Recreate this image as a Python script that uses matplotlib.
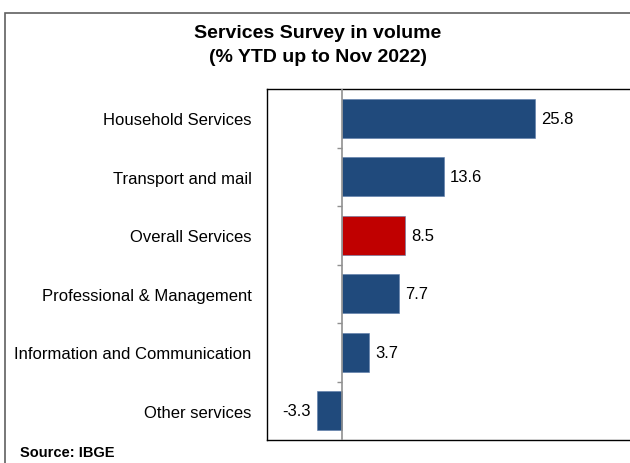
import numpy as np
import matplotlib.pyplot as plt
from matplotlib.patches import Rectangle

plt.rcParams['font.family'] = ['Liberation Sans', 'DejaVu Sans']

categories = ['Household Services', 'Transport and mail', 'Overall Services',
              'Professional & Management', 'Information and Communication',
              'Other services']
values = [25.8, 13.6, 8.5, 7.7, 3.7, -3.3]
highlight = 'Overall Services'

navy = '#204A7C'
red = '#C00000'

fig = plt.figure(figsize=(6.3, 4.64), dpi=100)

# outer frame (runs past the right and bottom edges)
fig.patches.append(Rectangle((5 / 630, -0.1), 1.0, (464 - 14) / 464 + 0.1,
                             transform=fig.transFigure, fill=False,
                             edgecolor='#606060', linewidth=1.2))

ax = fig.add_axes([267 / 630, 23 / 464, 374 / 630, 351 / 464])

y = np.arange(len(categories))
colors = [red if c == highlight else navy for c in categories]
ax.barh(y, values, height=0.67, color=colors, edgecolor='#5A7AA8', linewidth=0.4, zorder=2)

ax.set_xlim(-10, 40)
ax.set_ylim(len(categories) - 0.5, -0.5)

# zero line with small ticks between categories
ax.axvline(0, color='#909090', linewidth=1.2, zorder=3)
ax.hlines(y[:-1] + 0.5, -0.67, 0, color='#909090', linewidth=1.0, zorder=3)

for yi, v in zip(y, values):
    if v >= 0:
        ax.text(v + 0.8, yi, f'{v:.1f}', va='center', ha='left', fontsize=12)
    else:
        ax.text(v - 0.8, yi, f'{v:.1f}', va='center', ha='right', fontsize=12)

ax.set_yticks(y)
ax.set_yticklabels(categories, fontsize=12)
ax.tick_params(axis='y', length=0, pad=11)
ax.set_xticks([])
for s in ax.spines.values():
    s.set_color('black')
    s.set_linewidth(1.0)

fig.text(318 / 630, 1 - 34 / 464, 'Services Survey in volume', ha='center', va='center',
         fontsize=14, fontweight='bold')
fig.text(318 / 630, 1 - 58 / 464, '(% YTD up to Nov 2022)', ha='center', va='center',
         fontsize=14, fontweight='bold')
fig.text(20 / 630, 1 - 453 / 464, 'Source: IBGE', ha='left', va='center',
         fontsize=10.5, fontweight='bold')

fig.savefig('out.png', dpi=100)
